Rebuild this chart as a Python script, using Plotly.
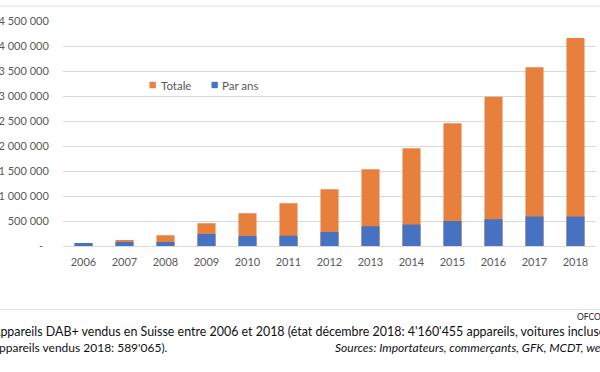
import plotly.graph_objects as go

years = ["2006", "2007", "2008", "2009", "2010", "2011", "2012",
         "2013", "2014", "2015", "2016", "2017", "2018"]
totale = [60000, 120000, 215000, 455000, 655000, 855000, 1135000,
          1535000, 1955000, 2455000, 2985000, 3575000, 4160455]
par_ans = [60000, 80000, 80000, 240000, 200000, 205000, 280000,
           395000, 430000, 500000, 535000, 590000, 589065]

y_tickvals = [0, 500000, 1000000, 1500000, 2000000, 2500000,
              3000000, 3500000, 4000000, 4500000]
y_ticktext = ["-\u00a0\u00a0", "500 000", "1 000 000", "1 500 000", "2 000 000",
              "2 500 000", "3 000 000", "3 500 000", "4 000 000", "4 500 000"]

ORANGE = "#E8803D"
BLUE = "#4772C2"
GRID = "#d9d9d9"
TXT = "#595959"
FONT = "Lato"

W, H = 600, 372
L, R, T, B = 63, 4, 21, 126
PW, PH = W - L - R, H - T - B


def px(x):
    return (x - L) / PW


def py(y):
    return (H - B - y) / PH


fig = go.Figure()
fig.add_trace(go.Bar(x=years, y=totale, name="Totale", marker_color=ORANGE,
                     marker_line_width=0, showlegend=False))
fig.add_trace(go.Bar(x=years, y=par_ans, name="Par ans", marker_color=BLUE,
                     marker_line_width=0, showlegend=False))

shapes = [
    dict(type="line", xref="paper", yref="paper", x0=px(0), x1=px(600),
         y0=py(6), y1=py(6), line=dict(color="#e2e2e2", width=1)),
    dict(type="line", xref="paper", yref="paper", x0=px(0), x1=px(600),
         y0=py(309.5), y1=py(309.5), line=dict(color="#e2e2e2", width=1)),
    # legend swatches
    dict(type="rect", xref="paper", yref="paper", x0=px(149.5), x1=px(155.8),
         y0=py(88.2), y1=py(81.8), fillcolor=ORANGE, line=dict(width=0)),
    dict(type="rect", xref="paper", yref="paper", x0=px(211.5), x1=px(217.8),
         y0=py(88.2), y1=py(81.8), fillcolor=BLUE, line=dict(width=0)),
]

annotations = [
    dict(text="Totale", x=px(158.5), y=py(85), xanchor="left", yanchor="middle",
         font=dict(family=FONT, size=11.5, color=TXT)),
    dict(text="Par ans", x=px(220), y=py(85), xanchor="left", yanchor="middle",
         font=dict(family=FONT, size=11.5, color=TXT)),
    dict(text="OFCOM", x=px(575), y=py(317), xanchor="left", yanchor="middle",
         font=dict(family=FONT, size=8.5, color="#222222")),
    dict(text="Appareils DAB+ vendus en Suisse entre 2006 et 2018 (état décembre 2018: "
              "4'160'455 appareils, voitures incluses;",
         x=px(-10.5), y=py(331.5), xanchor="left", yanchor="middle",
         font=dict(family=FONT, size=12.45, color="#111111")),
    dict(text="appareils vendus 2018: 589'065).",
         x=px(-9), y=py(347), xanchor="left", yanchor="middle",
         font=dict(family=FONT, size=12, color="#111111")),
    dict(text="<i>Sources: Importateurs, commerçants, GFK, MCDT, web</i>",
         x=px(333), y=py(347), xanchor="left", yanchor="middle",
         font=dict(family=FONT, size=12, color="#111111")),
]
for a in annotations:
    a.update(xref="paper", yref="paper", showarrow=False)

fig.update_layout(
    width=W, height=H,
    margin=dict(l=L, r=R, t=T, b=B, autoexpand=False),
    paper_bgcolor="white", plot_bgcolor="white",
    barmode="overlay", bargap=0.56,
    showlegend=False,
    font=dict(family=FONT, size=11, color=TXT),
    shapes=shapes, annotations=annotations,
    xaxis=dict(type="category", showgrid=False, zeroline=False, showline=False,
               ticks="outside", ticklen=6, tickcolor="rgba(0,0,0,0)",
               tickfont=dict(family=FONT, size=11, color=TXT), automargin=False),
    yaxis=dict(range=[0, 4500000], tickvals=y_tickvals, ticktext=y_ticktext,
               showgrid=True, gridcolor=GRID, gridwidth=1,
               zeroline=True, zerolinecolor=GRID, zerolinewidth=1,
               showline=False, ticks="outside", ticklen=11,
               tickcolor="rgba(0,0,0,0)",
               tickfont=dict(family=FONT, size=11, color=TXT), automargin=False),
)

fig.write_html(
    "out.html",
    config={"displayModeBar": False},
    post_script="document.body.style.margin='0';document.body.style.overflow='hidden';",
)
